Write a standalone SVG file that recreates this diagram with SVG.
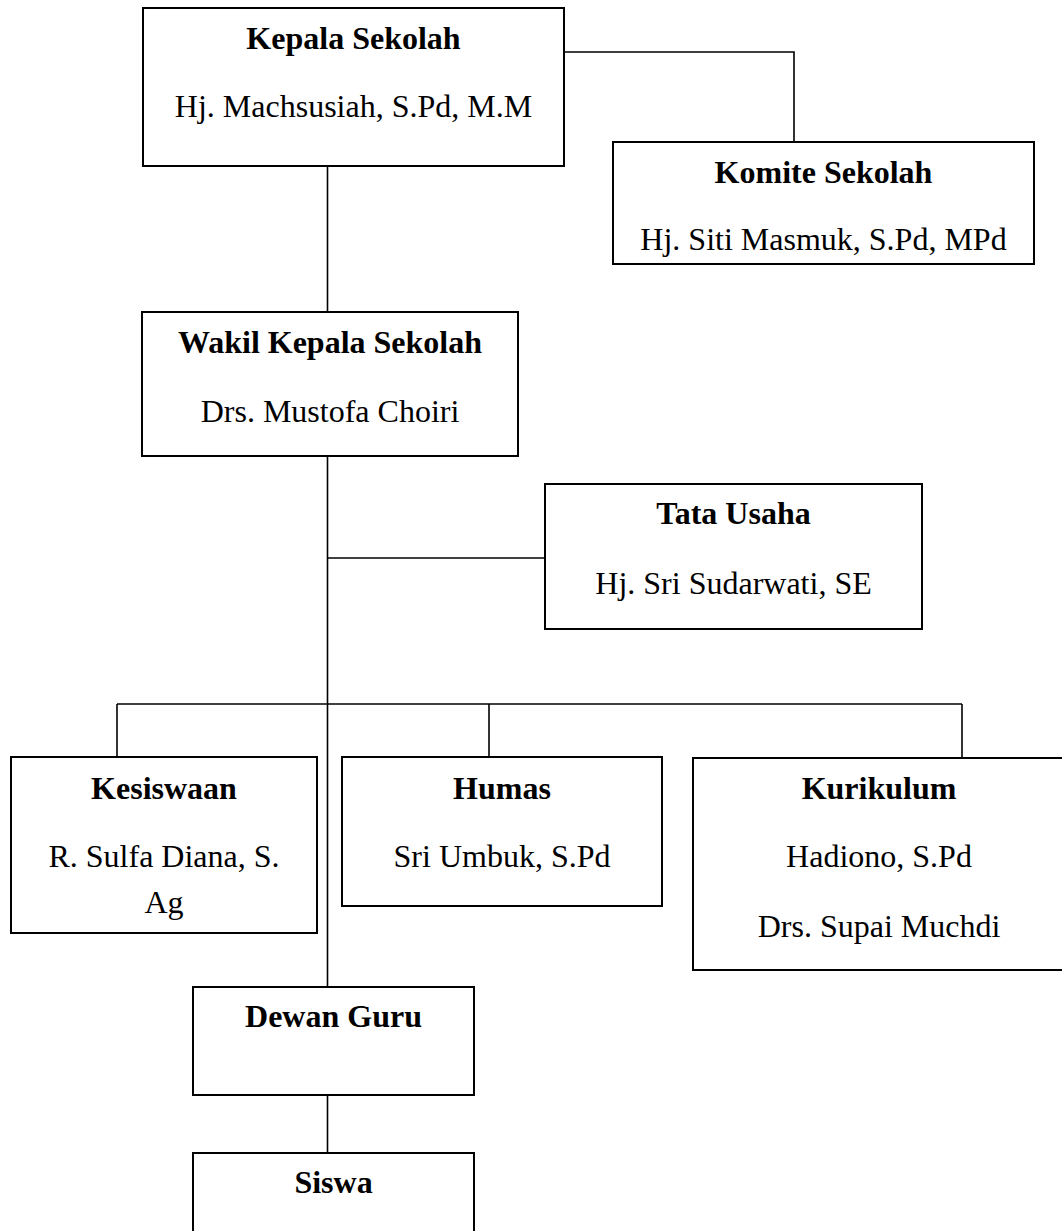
<svg xmlns="http://www.w3.org/2000/svg" width="1062" height="1231" viewBox="0 0 1062 1231">
<style>
.box{fill:#fff;stroke:#000;stroke-width:2}
.ln{fill:none;stroke:#000;stroke-width:1.6}
text{font-family:"Liberation Serif","Times New Roman",serif;font-size:32px;fill:#000;text-anchor:middle}
.t{font-weight:bold}
</style>
<rect width="1062" height="1231" fill="#fff"/>
<g id="connectors">
<polyline class="ln" points="564,52 794,52 794,142"/>
<line class="ln" x1="327.5" y1="166" x2="327.5" y2="312"/>
<line class="ln" x1="327.5" y1="456" x2="327.5" y2="987"/>
<line class="ln" x1="327.5" y1="558" x2="545" y2="558"/>
<line class="ln" x1="117" y1="704" x2="962" y2="704"/>
<line class="ln" x1="117" y1="704" x2="117" y2="757"/>
<line class="ln" x1="489" y1="704" x2="489" y2="757"/>
<line class="ln" x1="962" y1="704" x2="962" y2="758"/>
<line class="ln" x1="327.5" y1="1095" x2="327.5" y2="1153"/>
</g>
<g id="kepala">
<rect class="box" x="143" y="8" width="421" height="158"/>
<text class="t" x="353.5" y="49">Kepala Sekolah</text>
<text x="353.5" y="117">Hj. Machsusiah, S.Pd, M.M</text>
</g>
<g id="komite">
<rect class="box" x="613" y="142" width="421" height="122"/>
<text class="t" x="823.5" y="183">Komite Sekolah</text>
<text x="823.5" y="250">Hj. Siti Masmuk, S.Pd, MPd</text>
</g>
<g id="wakil">
<rect class="box" x="142" y="312" width="376" height="144"/>
<text class="t" x="330" y="353">Wakil Kepala Sekolah</text>
<text x="330" y="422">Drs. Mustofa Choiri</text>
</g>
<g id="tata-usaha">
<rect class="box" x="545" y="484" width="377" height="145"/>
<text class="t" x="733.5" y="524">Tata Usaha</text>
<text x="733.5" y="594">Hj. Sri Sudarwati, SE</text>
</g>
<g id="kesiswaan">
<rect class="box" x="11" y="757" width="306" height="176"/>
<text class="t" x="164" y="799">Kesiswaan</text>
<text x="164" y="867">R. Sulfa Diana, S.</text>
<text x="164" y="913">Ag</text>
</g>
<g id="humas">
<rect class="box" x="342" y="757" width="320" height="149"/>
<text class="t" x="502" y="799">Humas</text>
<text x="502" y="867">Sri Umbuk, S.Pd</text>
</g>
<g id="kurikulum">
<rect class="box" x="693" y="758" width="373" height="212"/>
<text class="t" x="879" y="799">Kurikulum</text>
<text x="879" y="867">Hadiono, S.Pd</text>
<text x="879" y="937">Drs. Supai Muchdi</text>
</g>
<g id="dewan-guru">
<rect class="box" x="193" y="987" width="281" height="108"/>
<text class="t" x="333.5" y="1027">Dewan Guru</text>
</g>
<g id="siswa">
<rect class="box" x="193" y="1153" width="281" height="100"/>
<text class="t" x="333.5" y="1193">Siswa</text>
</g>
</svg>
